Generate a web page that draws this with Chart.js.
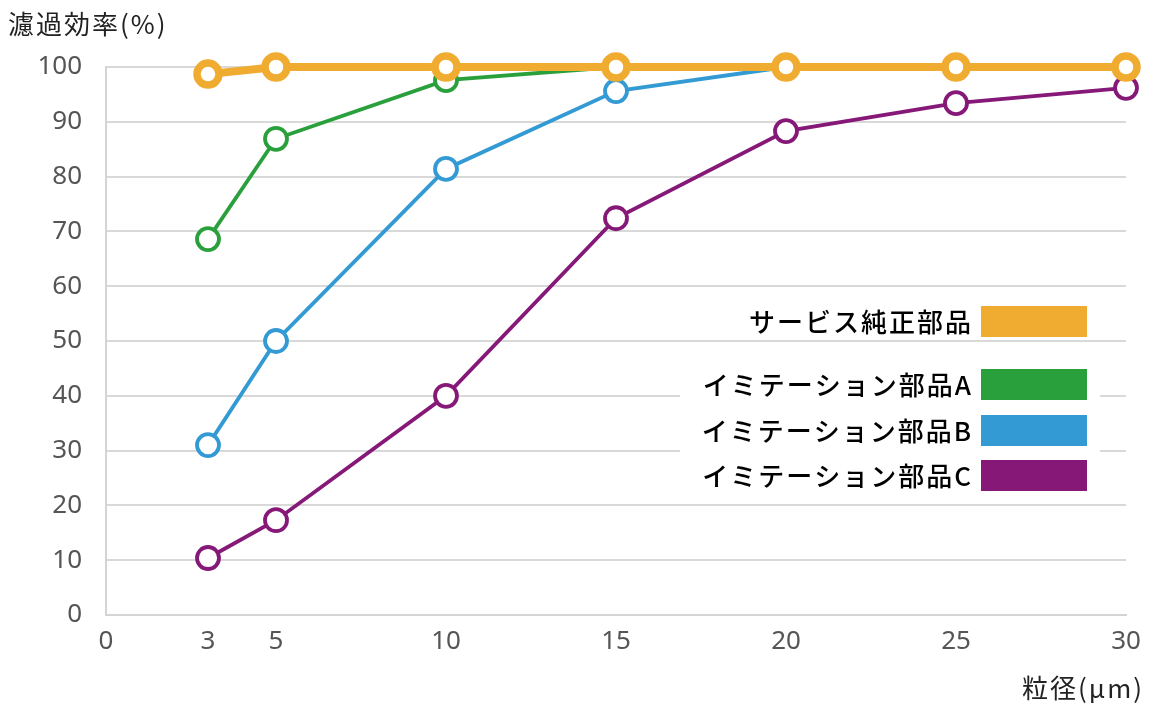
<!DOCTYPE html>
<html>
<head>
<meta charset="utf-8">
<script src="https://cdn.jsdelivr.net/npm/chart.js@4"></script>
<style>
body{margin:0;background:#fff}
</style>
</head>
<body>
<canvas id="filter" width="1156" height="706"></canvas>
<script>
// particle size (um) and filtration efficiency (%)
const sizes = [3, 5, 10, 15, 20, 25, 30];
const xTicks = [0, 3, 5, 10, 15, 20, 25, 30];
const genuine = [98.7, 100, 100, 100, 100, 100, 100];
const imitA = [68.6, 86.9, 97.6, 100, 100, 100, 100];
const imitB = [31, 50, 81.4, 95.6, 100, 100, 100];
const imitC = [10.4, 17.3, 40, 72.4, 88.3, 93.4, 96.2];
const names = ['サービス純正部品', 'イミテーション部品A', 'イミテーション部品B', 'イミテーション部品C'];
const colors = ['rgb(240,172,48)', 'rgb(42,160,60)', 'rgb(51,154,212)', 'rgb(134,24,120)'];

const pts = vals => vals.map((v, i) => ({x: sizes[i], y: v}));
const jp = '"Noto Sans CJK JP", "Noto Sans", sans-serif';

const extras = {
    id: 'extras',
    afterDraw(chart){
        const ctx = chart.ctx;
        ctx.save();
        // axis titles
        ctx.fillStyle = '#222';
        ctx.font = '26px ' + jp;
        ctx.textBaseline = 'middle';
        ctx.textAlign = 'left';
        ctx.letterSpacing = '2px';
        ctx.fillText('濾過効率(%)', 8, 24);
        ctx.textAlign = 'right';
        ctx.fillText('粒径(μm)', 1144, 688);
        // legend
        ctx.fillStyle = '#fff';
        ctx.fillRect(680, 352, 420, 146);
        const rows = [321, 384, 430, 475];
        ctx.font = '500 26px ' + jp;
        ctx.letterSpacing = '2px';
        names.forEach((n, i) => {
            ctx.fillStyle = colors[i];
            ctx.fillRect(981, rows[i] - 15, 106, 31);
            ctx.fillStyle = '#000';
            ctx.fillText(n, 973, rows[i] + 1);
        });
        ctx.restore();
    }
};

const ds = (label, vals, color, main) => ({
    label: label,
    data: pts(vals),
    borderColor: color,
    backgroundColor: color,
    borderWidth: main ? 8 : 3.8,
    pointRadius: 11,
    pointBorderWidth: main ? 7.5 : 3.8,
    pointBackgroundColor: '#fff',
    pointBorderColor: color,
    tension: 0,
    clip: false
});

new Chart(document.getElementById('filter').getContext('2d'), {
    type: 'line',
    data: {
        datasets: [
            ds(names[0], genuine, colors[0], true),
            ds(names[1], imitA, colors[1]),
            ds(names[2], imitB, colors[2]),
            ds(names[3], imitC, colors[3])
        ]
    },
    options: {
        responsive: false,
        animation: false,
        layout: {padding: {top: 67, left: 0, right: 30, bottom: 0}},
        plugins: {legend: {display: false}, tooltip: {enabled: false}},
        scales: {
            x: {
                type: 'linear',
                min: 0,
                max: 30,
                afterBuildTicks: s => { s.ticks = xTicks.map(v => ({value: v})); },
                afterFit: s => { s.height = 91; },
                grid: {display: false, drawTicks: false},
                border: {color: '#d4d4d4', width: 2},
                ticks: {padding: 11, color: '#555', font: {family: 'Noto Sans', size: 26}, autoSkip: false, maxRotation: 0}
            },
            y: {
                min: 0,
                max: 100,
                afterFit: s => { s.width = 106; },
                grid: {color: '#d9d9d9', lineWidth: 2, drawTicks: false},
                border: {color: '#d4d4d4', width: 2},
                ticks: {stepSize: 10, padding: 24, color: '#555', font: {family: 'Noto Sans', size: 26}}
            }
        }
    },
    plugins: [extras]
});
</script>
</body>
</html>
